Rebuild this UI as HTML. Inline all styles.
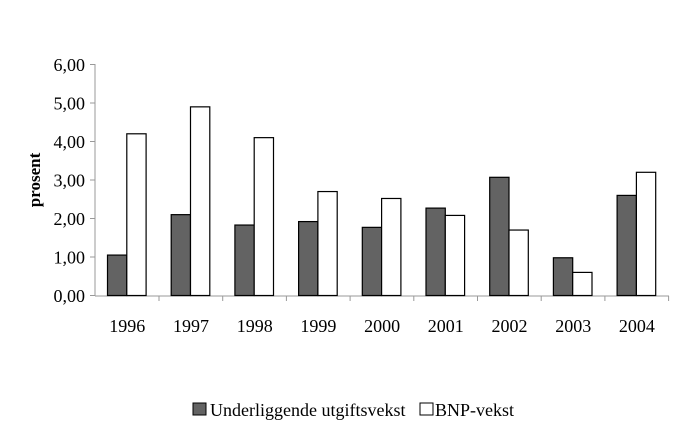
<!DOCTYPE html><html><head><style>body{margin:0;background:#fff}</style></head><body>
<svg width="700" height="433" xmlns="http://www.w3.org/2000/svg" font-family="Liberation Serif, serif" font-size="18">
<rect width="700" height="433" fill="#fff"/>
<g stroke="#999" stroke-width="1">
<line x1="95" y1="64" x2="95" y2="296"/>
<line x1="95" y1="296" x2="669" y2="296"/>
<line x1="90" y1="64.5" x2="95" y2="64.5"/><line x1="90" y1="103" x2="95" y2="103"/><line x1="90" y1="141.5" x2="95" y2="141.5"/><line x1="90" y1="180" x2="95" y2="180"/><line x1="90" y1="218.5" x2="95" y2="218.5"/><line x1="90" y1="257" x2="95" y2="257"/><line x1="90" y1="295.5" x2="95" y2="295.5"/>
<line x1="159" y1="296" x2="159" y2="301"/><line x1="222.7" y1="296" x2="222.7" y2="301"/><line x1="286.4" y1="296" x2="286.4" y2="301"/><line x1="350.1" y1="296" x2="350.1" y2="301"/><line x1="413.8" y1="296" x2="413.8" y2="301"/><line x1="477.5" y1="296" x2="477.5" y2="301"/><line x1="541.2" y1="296" x2="541.2" y2="301"/><line x1="604.9" y1="296" x2="604.9" y2="301"/><line x1="668.6" y1="296" x2="668.6" y2="301"/>
</g>
<g text-anchor="end" fill="#000">
<text x="85" y="71">6,00</text><text x="85" y="109.5">5,00</text><text x="85" y="148">4,00</text><text x="85" y="186.5">3,00</text><text x="85" y="225">2,00</text><text x="85" y="263.5">1,00</text><text x="85" y="302">0,00</text>
</g>
<text transform="translate(40,180) rotate(-90)" text-anchor="middle" font-weight="bold" font-size="17">prosent</text>
<g id="bars" stroke="#000" stroke-width="1.2"></g>
<g text-anchor="middle" id="lbl"></g>
<rect x="193" y="403" width="13" height="12" fill="#636363" stroke="#000"/>
<text x="210" y="416">Underliggende utgiftsvekst</text>
<rect x="420" y="403" width="13" height="12" fill="#fff" stroke="#000"/>
<text x="435" y="416">BNP-vekst</text>
<script>
var d=[[1.05,4.2],[2.1,4.9],[1.83,4.1],[1.92,2.7],[1.77,2.52],[2.27,2.08],[3.07,1.7],[0.98,0.6],[2.6,3.2]];
var g=document.getElementById('bars'),l=document.getElementById('lbl'),ns='http://www.w3.org/2000/svg';
d.forEach(function(v,i){var x0=95.5+63.7*i+12;
[0,1].forEach(function(k){var r=document.createElementNS(ns,'rect');var h=v[k]*38.5;
r.setAttribute('x',x0+k*19.3);r.setAttribute('y',295.5-h);r.setAttribute('width',19.3);r.setAttribute('height',h);r.setAttribute('fill',k?'#fff':'#636363');g.appendChild(r);});
var t=document.createElementNS(ns,'text');t.setAttribute('x',95.5+63.7*i+31.8);t.setAttribute('y',332);t.textContent=1996+i;l.appendChild(t);});
</script>
</svg></body></html>
